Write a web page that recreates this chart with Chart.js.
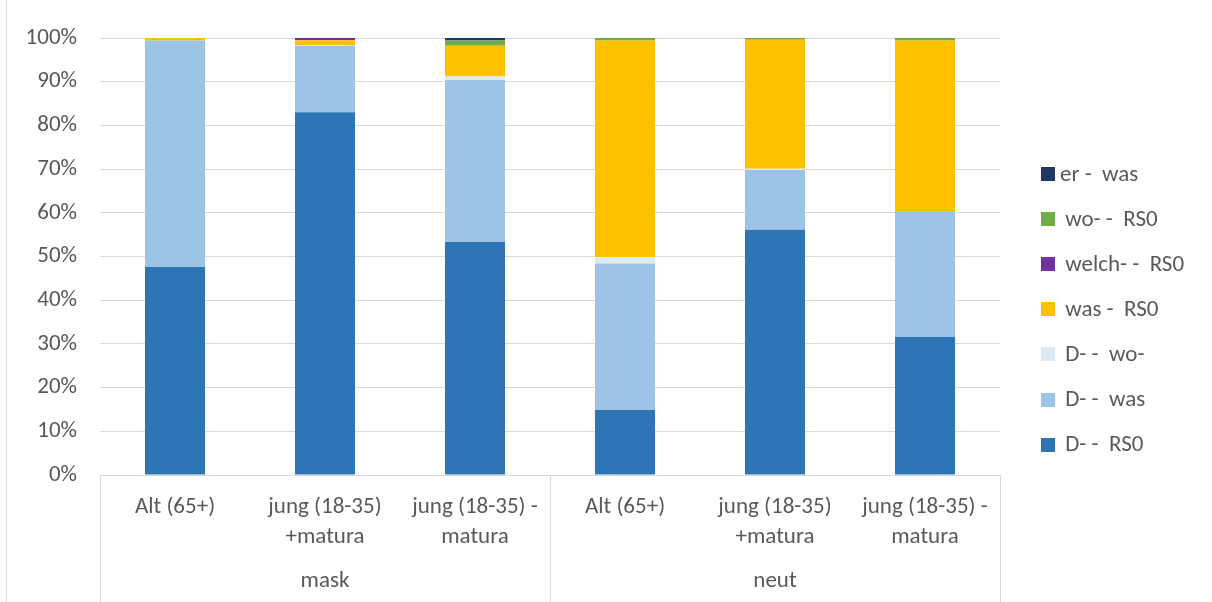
<!DOCTYPE html>
<html>
<head>
<meta charset="utf-8">
<script src="https://cdn.jsdelivr.net/npm/chart.js@4.4.1/dist/chart.umd.min.js"></script>
<style>
  html, body { margin: 0; padding: 0; background: #ffffff; }
  #wrap { width: 1212px; height: 602px; position: relative; }
</style>
</head>
<body>
<div id="wrap"><canvas id="c" width="1212" height="602"></canvas></div>
<script>
// Categories (two-level axis: speaker group within gender)
const categories = [
  ['Alt (65+)'],
  ['jung (18-35)', '+matura'],
  ['jung (18-35) -', 'matura'],
  ['Alt (65+)'],
  ['jung (18-35)', '+matura'],
  ['jung (18-35) -', 'matura']
];
const groups = ['mask', 'neut'];
const groupSizes = [3, 3];

// Shares per relative-clause variant, in percent
const dRS0   = [47.6, 83.0, 53.3, 14.9, 56.1, 31.6];
const dWas   = [51.8, 15.2, 37.1, 33.5, 13.7, 28.8];
const dWo    = [0.0, 0.2, 0.8, 1.4, 0.3, 0.0];
const wasRS0 = [0.6, 1.1, 7.0, 49.6, 29.5, 39.0];
const welch  = [0.0, 0.5, 0.0, 0.0, 0.0, 0.0];
const woRS0  = [0.0, 0.0, 1.2, 0.6, 0.4, 0.6];
const erWas  = [0.0, 0.0, 0.6, 0.0, 0.0, 0.0];

const seriesNames = ['D- -  RS0', 'D- -  was', 'D- -  wo-', 'was -  RS0', 'welch- -  RS0', 'wo- -  RS0', 'er -  was'];
const seriesValues = [dRS0, dWas, dWo, wasRS0, welch, woRS0, erWas];
const seriesColors = ['#2E75B6', '#9DC3E6', '#DEEBF7', '#FFC000', '#7030A0', '#70AD47', '#203864'];

const yTicks = [0, 10, 20, 30, 40, 50, 60, 70, 80, 90, 100];

const FONT = 'Carlito, Lato, sans-serif';
const FSIZE = 23;
const TEXT = '#595959';
const GRID = '#d9d9d9';

const datasets = seriesNames.map((name, i) => ({
  label: name,
  data: seriesValues[i],
  backgroundColor: seriesColors[i],
  borderWidth: 0,
  barPercentage: 0.4,
  categoryPercentage: 1.0
}));

// Group labels, separators under the axis, legend and outer frame
const decor = {
  id: 'decor',
  beforeDraw(chart) {
    const ctx = chart.ctx;
    ctx.save();
    ctx.strokeStyle = GRID;
    ctx.lineWidth = 1;
    ctx.beginPath();
    ctx.moveTo(6.5, 0);
    ctx.lineTo(6.5, chart.height);
    ctx.stroke();
    ctx.restore();
  },
  afterDraw(chart) {
    const ctx = chart.ctx;
    const x = chart.scales.x;
    const area = chart.chartArea;
    const half = (x.getPixelForValue(1) - x.getPixelForValue(0)) / 2;
    ctx.save();
    ctx.strokeStyle = GRID;
    ctx.lineWidth = 1;
    let idx = 0;
    const bounds = [x.getPixelForValue(0) - half];
    groupSizes.forEach(n => { idx += n; bounds.push(x.getPixelForValue(idx - 1) + half); });
    bounds.forEach(bx => {
      const px = Math.round(bx) + 0.5;
      ctx.beginPath();
      ctx.moveTo(px, area.bottom);
      ctx.lineTo(px, chart.height);
      ctx.stroke();
    });
    ctx.fillStyle = TEXT;
    ctx.font = FSIZE + 'px ' + FONT;
    ctx.textAlign = 'center';
    ctx.textBaseline = 'middle';
    groups.forEach((g, i) => {
      ctx.fillText(g, (bounds[i] + bounds[i + 1]) / 2, 581);
    });

    // Legend, last series on top
    ctx.textAlign = 'left';
    const startY = 174;
    const step = 45.1;
    for (let k = 0; k < seriesNames.length; k++) {
      const s = seriesNames.length - 1 - k;
      const cy = startY + k * step;
      ctx.fillStyle = seriesColors[s];
      ctx.fillRect(1041, Math.round(cy - 7), 14, 14);
      ctx.fillStyle = TEXT;
      ctx.fillText(s === 6 ? seriesNames[s] : ' ' + seriesNames[s], 1060, cy + 1);
    }
    ctx.restore();
  }
};

new Chart(document.getElementById('c'), {
  type: 'bar',
  data: { labels: categories, datasets },
  plugins: [decor],
  options: {
    responsive: false,
    animation: false,
    devicePixelRatio: 1,
    layout: { padding: { top: 38, right: 212, left: 0, bottom: 0 } },
    plugins: {
      legend: { display: false },
      tooltip: { enabled: false }
    },
    scales: {
      x: {
        stacked: true,
        grid: { display: false, drawTicks: false },
        border: { display: true, color: GRID, width: 1 },
        ticks: {
          color: TEXT,
          font: { family: FONT, size: FSIZE, lineHeight: 1.3 },
          padding: 17,
          maxRotation: 0,
          autoSkip: false
        },
        afterFit(s) { s.height = 127; }
      },
      y: {
        stacked: true,
        min: 0,
        max: 100,
        afterBuildTicks(s) { s.ticks = yTicks.map(v => ({ value: v })); },
        grid: { color: GRID, lineWidth: 1, drawTicks: false },
        border: { display: false },
        ticks: {
          color: TEXT,
          font: { family: FONT, size: FSIZE },
          padding: 23,
          callback: v => v + '%'
        },
        afterFit(s) { s.width = 100; }
      }
    }
  }
});
</script>
</body>
</html>
